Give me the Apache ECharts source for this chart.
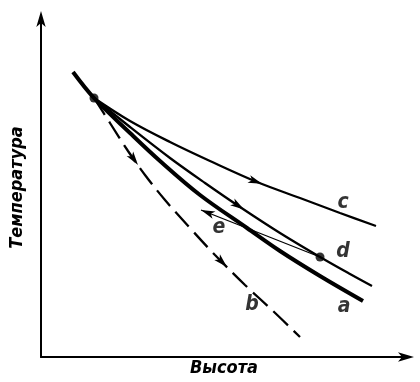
<!DOCTYPE html>
<html><head><meta charset="utf-8">
<script src="https://cdn.jsdelivr.net/npm/echarts@6/dist/echarts.min.js"></script>
<style>html,body{margin:0;padding:0;background:#fff}#c{width:420px;height:382px}</style>
</head><body><div id="c"></div>
<script>
// Schematic: height (x) vs temperature (y), arbitrary units
const curveA = [[32,285],[53,259],[89,224],[119,196],[159,162],[206,129],[239,106],[279,81],[322,56]];
const curveB = [[53,259],[69,234],[87,206],[104,182],[124,157],[149,129],[174,102],[204,72],[231,47],[259,20]];
const curveC = [[53,259],[89,236],[129,215],[169,196],[216,175],[259,159],[299,144],[335,131]];
const curveD = [[53,259],[89,230],[129,199],[164,174],[199,150],[239,124],[279,100],[309,83],[331,71]];
const curveE = [[279,100],[160,147]];
const statePoints = [[53,259],[279,100]];
const curveLabels = [['a',303,50],['b',211,52],['c',302,154],['d',302,105],['e',178,129]];
// arrowheads: [curve key, x where the arrow tip sits]
const arrowMarks = [['b',97],['b',186],['c',221],['d',203],['e',160]];
const xName = 'Высота';
const yName = 'Температура';

const curves = {a: curveA, b: curveB, c: curveC, d: curveD, e: curveE};
function arrowDatum(key, x) {
  const c = curves[key];
  for (let i = 0; i < c.length - 1; i++) {
    const x0 = c[i][0], x1 = c[i+1][0];
    if ((x - x0) * (x - x1) <= 0) {
      const t = (x - x0) / (x1 - x0);
      const y = c[i][1] + t * (c[i+1][1] - c[i][1]);
      return [x, y, c[i][0], c[i][1], c[i+1][0], c[i+1][1]];
    }
  }
  return null;
}
const arrowData = arrowMarks.map(m => arrowDatum(m[0], m[1]));

const INK = '#000';
const FONT = "'DejaVu Sans Condensed','Liberation Sans Narrow','DejaVu Sans',sans-serif";
const chart = echarts.init(document.getElementById('c'), null, {renderer: 'canvas'});
const axisCommon = {
  type: 'value',
  axisLine: {show: true, symbol: ['none', 'arrow'], symbolSize: [7, 16], symbolOffset: [0, 7],
    lineStyle: {color: INK, width: 2}},
  axisTick: {show: false}, axisLabel: {show: false}, splitLine: {show: false},
  nameLocation: 'middle',
  nameTextStyle: {color: INK, fontStyle: 'italic', fontWeight: 'bold', fontSize: 18, fontFamily: FONT}
};
function lineSeries(data, width, type) {
  return {type: 'line', data: data, smooth: 0.35, symbol: 'none', silent: true,
    lineStyle: {color: INK, width: width, type: type || 'solid', cap: 'butt'}};
}
chart.setOption({
  animation: false,
  backgroundColor: '#fff',
  grid: {left: 41, right: 13, top: 18, bottom: 25},
  xAxis: Object.assign({}, axisCommon, {min: 0, max: 366, name: xName, nameGap: 2}),
  yAxis: Object.assign({}, axisCommon, {min: 0, max: 339, name: yName, nameGap: 15, nameRotate: 90}),
  series: [
    lineSeries(curveA, 4),
    lineSeries(curveB, 2.3, [20, 8]),
    lineSeries(curveC, 2.3),
    lineSeries(curveD, 2.3),
    lineSeries(curveE, 1.3),
    {type: 'scatter', data: statePoints, symbolSize: 9, itemStyle: {color: INK}, silent: true},
    {type: 'scatter', data: curveLabels.map(l => ({value: [l[1], l[2]], name: l[0]})),
      symbolSize: 0, silent: true,
      label: {show: true, position: 'inside', formatter: p => p.name, color: INK,
        textBorderWidth: 0, fontStyle: 'italic', fontWeight: 'bold', fontSize: 21, fontFamily: FONT}},
    {type: 'custom', data: arrowData, silent: true, encode: {x: 0, y: 1},
      renderItem: function (params, api) {
        const tip = api.coord([api.value(0), api.value(1)]);
        const p0 = api.coord([api.value(2), api.value(3)]);
        const p1 = api.coord([api.value(4), api.value(5)]);
        let dx = p1[0] - p0[0], dy = p1[1] - p0[1];
        const L = Math.hypot(dx, dy); dx /= L; dy /= L;
        const len = 14, hw = 4, notch = 3.5;
        const bx = tip[0] - dx * len, by = tip[1] - dy * len;
        const nx = -dy, ny = dx;
        return {type: 'polygon', shape: {points: [
          [tip[0], tip[1]], [bx + nx * hw, by + ny * hw],
          [tip[0] - dx * (len - notch), tip[1] - dy * (len - notch)],
          [bx - nx * hw, by - ny * hw]]}, style: {fill: INK}};
      }}
  ]
});
</script>
</body></html>
